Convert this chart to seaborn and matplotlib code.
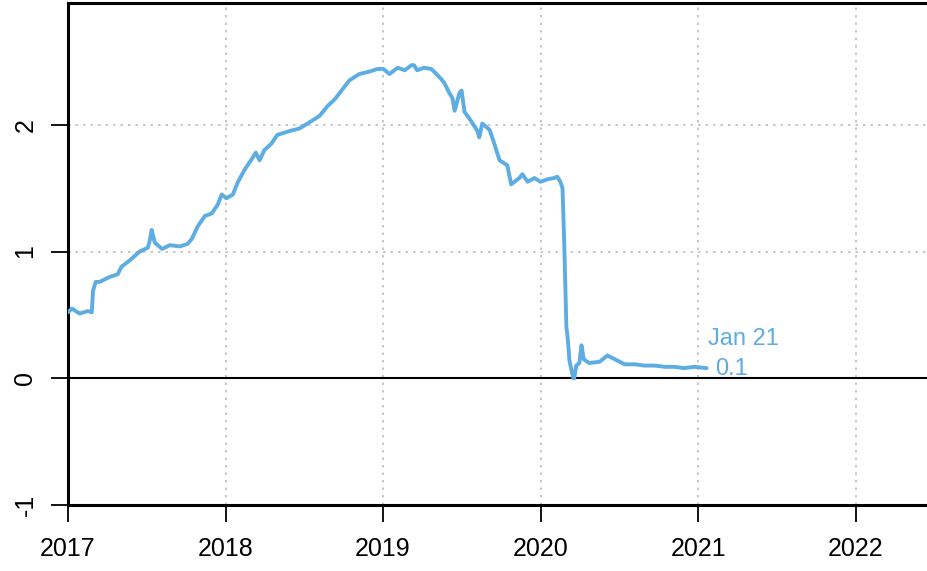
import pandas as pd
import matplotlib.pyplot as plt
import seaborn as sns

# values
dates = [
    "2017-01-01", "2017-01-10", "2017-01-28", "2017-02-16", "2017-02-25", "2017-02-28",
    "2017-03-06", "2017-03-15", "2017-04-08", "2017-04-26", "2017-05-05", "2017-05-24",
    "2017-06-16", "2017-07-05", "2017-07-09", "2017-07-14", "2017-07-21", "2017-08-07",
    "2017-08-25", "2017-09-17", "2017-10-05", "2017-10-15", "2017-10-29", "2017-11-14",
    "2017-11-30", "2017-12-14", "2017-12-23", "2018-01-03", "2018-01-18", "2018-01-30",
    "2018-02-15", "2018-03-03", "2018-03-12", "2018-03-21", "2018-04-01", "2018-04-17",
    "2018-05-01", "2018-05-29", "2018-06-21", "2018-07-15", "2018-08-07", "2018-08-26",
    "2018-09-11", "2018-09-29", "2018-10-15", "2018-11-07", "2018-12-01", "2018-12-19",
    "2019-01-02", "2019-01-16", "2019-02-04", "2019-02-20", "2019-03-08", "2019-03-14",
    "2019-03-21", "2019-04-06", "2019-04-23", "2019-05-05", "2019-05-16", "2019-05-23",
    "2019-06-04", "2019-06-11", "2019-06-16", "2019-06-27", "2019-07-02", "2019-07-09",
    "2019-07-20", "2019-08-08", "2019-08-12", "2019-08-19", "2019-09-05", "2019-09-16",
    "2019-09-28", "2019-10-16", "2019-10-25", "2019-11-13", "2019-11-20", "2019-12-02",
    "2019-12-18", "2020-01-01", "2020-01-17", "2020-02-02", "2020-02-09", "2020-02-16",
    "2020-02-21", "2020-02-25", "2020-03-01", "2020-03-04", "2020-03-08", "2020-03-17",
    "2020-03-19", "2020-03-24", "2020-03-31", "2020-04-05", "2020-04-10", "2020-04-23",
    "2020-05-17", "2020-06-04", "2020-06-21", "2020-07-14", "2020-08-06", "2020-08-29",
    "2020-09-22", "2020-10-15", "2020-11-06", "2020-11-29", "2020-12-22", "2021-01-20",
]
values = [
    0.52, 0.55, 0.51, 0.53, 0.52, 0.69,
    0.76, 0.76, 0.80, 0.82, 0.88, 0.93,
    1.00, 1.03, 1.08, 1.17, 1.07, 1.02,
    1.05, 1.04, 1.06, 1.10, 1.20, 1.28,
    1.30, 1.37, 1.45, 1.42, 1.45, 1.55,
    1.65, 1.73, 1.78, 1.72, 1.80, 1.85,
    1.92, 1.95, 1.97, 2.02, 2.07, 2.15,
    2.20, 2.28, 2.35, 2.40, 2.42, 2.44,
    2.44, 2.40, 2.45, 2.43, 2.47, 2.47,
    2.43, 2.45, 2.44, 2.40, 2.36, 2.33,
    2.25, 2.21, 2.11, 2.25, 2.27, 2.10,
    2.05, 1.95, 1.90, 2.01, 1.96, 1.85,
    1.72, 1.68, 1.53, 1.58, 1.61, 1.55,
    1.58, 1.55, 1.57, 1.58, 1.59, 1.55,
    1.50, 1.06, 0.40, 0.32, 0.14, 0.00,
    0.00, 0.10, 0.12, 0.26, 0.15, 0.12,
    0.13, 0.18, 0.15, 0.11, 0.11, 0.10,
    0.10, 0.09, 0.09, 0.08, 0.09, 0.08,
]
x_ticks = [2017, 2018, 2019, 2020, 2021, 2022]
y_ticks = [-1, 0, 1, 2]
end_label = "Jan 21"
end_value = "0.1"

df = pd.DataFrame({"date": pd.to_datetime(dates), "value": values})

sns.set_style("white")
plt.rcParams["font.family"] = ["Liberation Sans", "DejaVu Sans"]

line_col = "#5DADE2"
grid_kw = dict(color="#BEBEBE", lw=1.2, ls=(0, (1.5, 3)), zorder=0)

fig = plt.figure(figsize=(9.28, 5.71), dpi=100)
ax = fig.add_axes([0.0733, 0.1156, 0.9267, 0.879])

# grid
for yr in x_ticks:
    ax.axvline(pd.Timestamp(f"{yr}-01-01"), **grid_kw)
for yv in y_ticks:
    ax.axhline(yv, **grid_kw)
ax.axhline(0, color="black", lw=1.5, zorder=1)

sns.lineplot(data=df, x="date", y="value", ax=ax, color=line_col, lw=2.8,
             estimator=None, zorder=3)

ax.set_xlim(pd.Timestamp("2017-01-01"), pd.Timestamp("2022-06-17"))
ax.set_ylim(-1, 2.96)
ax.set_xticks([pd.Timestamp(f"{y}-01-01") for y in x_ticks])
ax.set_xticklabels([str(y) for y in x_ticks])
ax.set_yticks(y_ticks)
ax.set_yticklabels([str(v) for v in y_ticks], rotation=90, va="center")
ax.set_xlabel("")
ax.set_ylabel("")

ax.tick_params(axis="x", direction="out", length=12, width=1.3, pad=11,
               labelsize=18, bottom=True, color="black", labelcolor="black")
ax.tick_params(axis="y", direction="out", length=12, width=1.3, pad=10,
               labelsize=18, left=True, color="black", labelcolor="black")

for s in ["left", "top", "bottom"]:
    ax.spines[s].set_linewidth(2.2)
    ax.spines[s].set_color("black")
ax.spines["right"].set_visible(False)

last = df["date"].iloc[-1]
ax.text(last + pd.Timedelta(days=2), 0.31, end_label, color=line_col,
        fontsize=17, ha="left", va="center")
ax.text(last + pd.Timedelta(days=20), 0.075, end_value, color=line_col,
        fontsize=17, ha="left", va="center")

plt.savefig("out.png", dpi=100)
